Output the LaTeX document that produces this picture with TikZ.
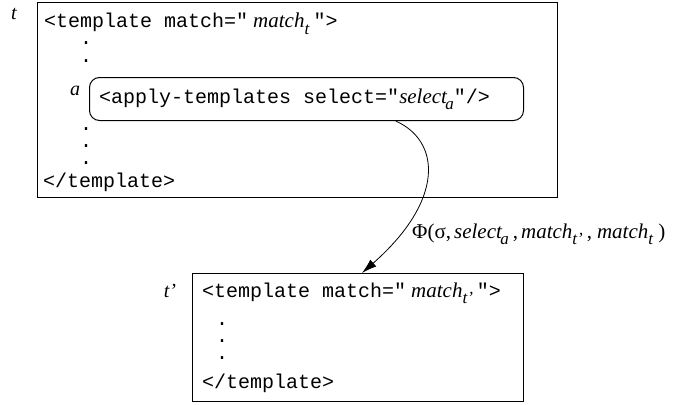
\documentclass[tikz,border=0pt]{standalone}
\usepackage{fontspec}
\setmainfont{Liberation Serif}
\setmonofont{Liberation Mono}
\usetikzlibrary{arrows.meta,calc}
\newcommand\sbs[1]{\raisebox{-0.33em}{\fontsize{17}{17}\selectfont #1}}
\newcommand\itw[1]{\textrm{\fontsize{21}{24}\selectfont\textit{#1}}}
\begin{document}
\begin{tikzpicture}[x=1pt,y=-1pt,
  box/.style={draw, line width=1pt, inner sep=0pt, anchor=north west},
  code/.style={anchor=base west, inner sep=0pt, font=\fontsize{20}{24}\selectfont\ttfamily},
  lbl/.style={anchor=base, inner sep=0pt, font=\fontsize{20}{24}\selectfont\itshape},
  dotn/.style={anchor=base, inner sep=0pt, font=\fontsize{20}{24}\selectfont\ttfamily}]
\useasboundingbox (0,0) rectangle (676,404);
% boxes
\node[box, minimum width=520pt, minimum height=195pt] (T) at (37,2) {};
\node[box, rounded corners=10pt, minimum width=434pt, minimum height=43pt] (A) at (89,77) {};
\node[box, minimum width=331pt, minimum height=128pt] (L) at (192,273) {};
% labels
\node[lbl] (tl) at (14,20) {t};
\node[lbl] (al) at (75,95) {a};
\node[lbl] (tpl) at (170,297) {t’};
% upper template
\node[code] (l1) at (44,28) {<template match="\hspace{5pt}\itw{match}\sbs{\textrm{\textit{t}}}\hspace{4pt}">};
\node[dotn] (d1) at (86,45) {.};
\node[dotn] (d2) at (86,62) {.};
\node[code] (ap) at (99,103) {<apply-templates select="\itw{select}\kern-2pt\sbs{\textrm{\textit{a}}}"/>};
\node[dotn] (d3) at (86,130) {.};
\node[dotn] (d4) at (86,147) {.};
\node[dotn] (d5) at (86,164) {.};
\node[code] (e1) at (43,187) {</template>};
% lower template
\node[code] (l2) at (202,297) {<template match="\hspace{5pt}\itw{match}\sbs{\textrm{\textit{t’}}}\hspace{4pt}">};
\node[dotn] (d6) at (222,325) {.};
\node[dotn] (d7) at (222,342) {.};
\node[dotn] (d8) at (222,359) {.};
\node[code] (e2) at (202,388) {</template>};
% function label
\node[anchor=base west, inner sep=0pt, font=\fontsize{21}{24}\selectfont] (phi) at (412,238)
  {Φ(σ,\hspace{3pt}\textit{select}\kern-2pt\sbs{\textit{a}}\hspace{4pt},\hspace{3pt}\textit{match}\sbs{\textit{t’}}\hspace{4pt},\hspace{5pt}\textit{match}\sbs{\textit{t}}\hspace{5pt})};
% connector
\draw[-{Latex[length=15pt,width=9pt]}, line width=0.8pt]
  ($(A.south west)!0.705!(A.south east)$) .. controls +(45,20) and +(83,-73) .. ([xshift=4pt]L.north);
\end{tikzpicture}
\end{document}
